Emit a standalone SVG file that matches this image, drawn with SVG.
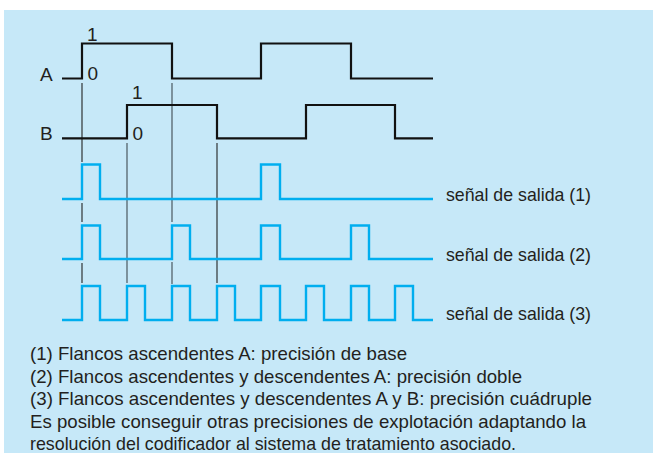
<svg xmlns="http://www.w3.org/2000/svg" width="653" height="453" viewBox="0 0 653 453">
<style>
.t{font-family:"Liberation Sans",Arial,Helvetica,sans-serif;font-size:19px;fill:#231F20}
.w{fill:none;stroke:#111;stroke-width:2.2;stroke-linejoin:miter}
.o{fill:none;stroke:#00AEEF;stroke-width:2.4;stroke-linejoin:miter}
.g{stroke:#222;stroke-width:1.1}
.g2{stroke:#4a5860;stroke-width:1.2}
</style>
<rect x="4" y="10" width="649" height="443" fill="#C6E8F8"/>
<g id="guides">
<line class="g" x1="82" y1="83" x2="82" y2="162"/>
<line class="g" x1="82" y1="203" x2="82" y2="222"/>
<line class="g" x1="82" y1="263" x2="82" y2="283"/>
<line class="g2" x1="127" y1="143" x2="127" y2="283"/>
<line class="g2" x1="172" y1="83" x2="172" y2="222"/>
<line class="g2" x1="172" y1="262" x2="172" y2="284"/>
<line class="g" x1="217" y1="143" x2="217" y2="283"/>
</g>
<g id="signalA">
<path class="w" d="M62,78.5 H82 V43.5 H172 V78.5 H261 V43.5 H351 V78.5 H433"/>
<text class="t" x="40" y="81" textLength="12.7" lengthAdjust="spacingAndGlyphs">A</text>
<text class="t" x="87" y="41">1</text>
<text class="t" x="87.5" y="79.5">0</text>
</g>
<g id="signalB">
<path class="w" d="M62,138.3 H127 V105 H217 V138.3 H306 V105 H395 V138.3 H433"/>
<text class="t" x="40" y="139.5" textLength="12.7" lengthAdjust="spacingAndGlyphs">B</text>
<text class="t" x="132" y="99">1</text>
<text class="t" x="132.5" y="139.5">0</text>
</g>
<g id="output1">
<path class="o" d="M62,199 H82 V164.5 H100 V199 H261 V164.5 H280 V199 H433"/>
<text class="t" x="446" y="201" textLength="145" lengthAdjust="spacingAndGlyphs">señal de salida (1)</text>
</g>
<g id="output2">
<path class="o" d="M62,259 H82 V225.5 H100 V259 H172 V225.5 H190 V259 H261 V225.5 H280 V259 H351 V225.5 H369 V259 H433"/>
<text class="t" x="446" y="261" textLength="145" lengthAdjust="spacingAndGlyphs">señal de salida (2)</text>
</g>
<g id="output3">
<path class="o" d="M62,320 H82 V286 H100 V320 H127 V286 H145 V320 H172 V286 H190 V320 H217 V286 H235 V320 H261 V286 H280 V320 H306 V286 H324 V320 H351 V286 H369 V320 H395 V286 H413 V320 H433"/>
<text class="t" x="446" y="320" textLength="145" lengthAdjust="spacingAndGlyphs">señal de salida (3)</text>
</g>
<g id="notes">
<text class="t" x="30" y="360" textLength="377" lengthAdjust="spacingAndGlyphs">(1) Flancos ascendentes A: precisión de base</text>
<text class="t" x="30" y="382.6" textLength="492" lengthAdjust="spacingAndGlyphs">(2) Flancos ascendentes y descendentes A: precisión doble</text>
<text class="t" x="30" y="405.2" textLength="562" lengthAdjust="spacingAndGlyphs">(3) Flancos ascendentes y descendentes A y B: precisión cuádruple</text>
<text class="t" x="30" y="427.8" textLength="556" lengthAdjust="spacingAndGlyphs">Es posible conseguir otras precisiones de explotación adaptando la</text>
<text class="t" x="30" y="450.4" textLength="486" lengthAdjust="spacingAndGlyphs">resolución del codificador al sistema de tratamiento asociado.</text>
</g>
</svg>
